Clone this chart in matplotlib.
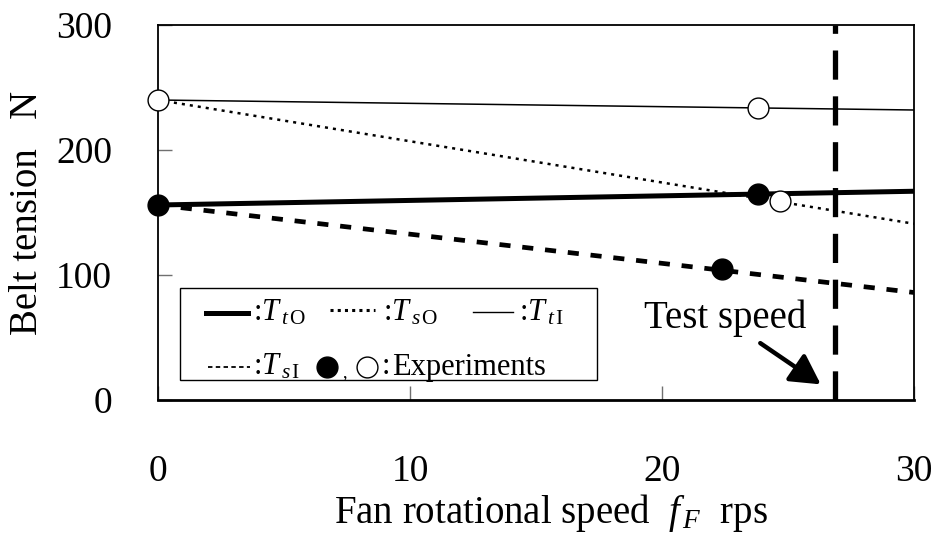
import matplotlib
matplotlib.use("Agg")
import matplotlib.pyplot as plt
from matplotlib.lines import Line2D
from matplotlib.patches import Rectangle

plt.rcParams["font.family"] = ["Liberation Serif", "DejaVu Serif"]
plt.rcParams["mathtext.fontset"] = "custom"
plt.rcParams["mathtext.rm"] = "Liberation Serif"
plt.rcParams["mathtext.it"] = "Liberation Serif:italic"
plt.rcParams["lines.scale_dashes"] = False

# Calculated tension lines (fan speed endpoints, rps -> N)
speed_range = [0, 30]
t_tO = [156, 167]      # thick solid
t_sO = [156, 86]       # thick dashed
t_tI = [240, 232]      # thin solid
t_sI = [240, 141]      # thin dotted

# Measured tensions
exp_filled_x = [0, 23.8, 22.4]
exp_filled_y = [156, 165, 105]
exp_open_x = [0, 23.8, 24.7]
exp_open_y = [240, 234, 159]

test_speed = 26.85

x_ticks = [0, 10, 20, 30]
y_ticks = [0, 100, 200, 300]

fig = plt.figure(figsize=(9.37, 5.34), dpi=100)
ax = fig.add_axes([158 / 937, 134 / 534, 756 / 937, 375 / 534])
ax.set_xlim(0, 30)
ax.set_ylim(0, 300)

ax.plot(speed_range, t_tI, color="black", lw=1.1, zorder=3)
ax.plot(speed_range, t_sI, color="black", lw=1.8, dashes=(2.2, 3.6), zorder=3)
ax.plot(speed_range, t_tO, color="black", lw=3.6, zorder=3)
ax.plot(speed_range, t_sO, color="black", lw=3.4, dashes=(8, 8.5), zorder=3)

ax.axvline(test_speed, color="black", lw=3.8, dashes=(21, 12), zorder=2)

ax.plot(exp_filled_x, exp_filled_y, "o", ms=15, mfc="black", mec="black",
        zorder=5, clip_on=False)
ax.plot(exp_open_x, exp_open_y, "o", ms=15, mfc="white", mec="black",
        mew=1.0, zorder=5, clip_on=False)

ax.text(22.5, 65.5, "Test speed", fontsize=28, ha="center", va="center")
ax.annotate("", xy=(26.3, 12.5), xytext=(23.9, 45.5),
            arrowprops=dict(arrowstyle="-|>,head_length=1.0,head_width=0.55",
                            mutation_scale=18, color="black", lw=3.2,
                            shrinkA=0, shrinkB=0))

ax.set_xticks(x_ticks)
ax.set_yticks(y_ticks)
ax.set_xticklabels([str(v) for v in x_ticks])
ax.set_yticklabels([str(v) for v in y_ticks])
ax.tick_params(direction="in", length=10, width=1.0, color="#707070",
               labelsize=27)
ax.tick_params(axis="x", pad=39)
ax.tick_params(axis="y", pad=33)
for s in ax.spines.values():
    s.set_linewidth(1.3)
ax.spines["bottom"].set_linewidth(2.0)

ax.text(-0.173, 0.5, "Belt tension   N", transform=ax.transAxes, fontsize=28,
        rotation=90, ha="center", va="center")
ax.text(0.52, -0.301, r"Fan rotational speed  $f_{\,F}$  rps",
        transform=ax.transAxes, fontsize=28, ha="center", va="center")

# Legend box drawn in axes-fraction coordinates
def px(x, y):
    return ((x - 158) / 756, (400 - y) / 375)

x0, y0 = px(180, 380)
x1, y1 = px(597, 288)
ax.add_patch(Rectangle((x0, y0), x1 - x0, y1 - y0, transform=ax.transAxes,
                       facecolor="white", edgecolor="black", lw=1.0, zorder=6))

def leg_line(xa, xb, y, **kw):
    a = px(xa, y)
    b = px(xb, y)
    ax.add_line(Line2D([a[0], b[0]], [a[1], b[1]], transform=ax.transAxes,
                       color="black", zorder=7, **kw))

def leg_text(x, y, s, size=22):
    p = px(x, y)
    ax.text(p[0], p[1], s, transform=ax.transAxes, fontsize=size,
            ha="left", va="center", zorder=7)

row1, row2 = 313, 367
leg_line(206, 248, row1, lw=3.6)
leg_text(253, row1, r":$T_{\,t\,\mathrm{O}}$")
leg_line(330, 375, row1 - 3, lw=2.2, dashes=(2.2, 3.0))
leg_text(383, row1, r":$T_{\,s\,\mathrm{O}}$")
leg_line(473, 513, row1 - 1, lw=1.0)
leg_text(519, row1, r":$T_{\,t\,\mathrm{I}}$")
leg_line(208, 250, row2, lw=1.3, dashes=(3.2, 2.4))
leg_text(253, row2, r":$T_{\,s\,\mathrm{I}}$")
pf = px(327, row2)
po = px(367, row2)
ax.plot([pf[0]], [pf[1]], "o", ms=15, mfc="black", mec="black",
        transform=ax.transAxes, zorder=7, clip_on=False)
ax.plot([po[0]], [po[1]], "o", ms=15, mfc="white", mec="black", mew=1.0,
        transform=ax.transAxes, zorder=7, clip_on=False)
leg_text(342, row2 + 6, ",", size=13)
leg_text(382, row2, ":")
leg_text(392, row2, "Experiments")

fig.savefig("out.png", dpi=100)
